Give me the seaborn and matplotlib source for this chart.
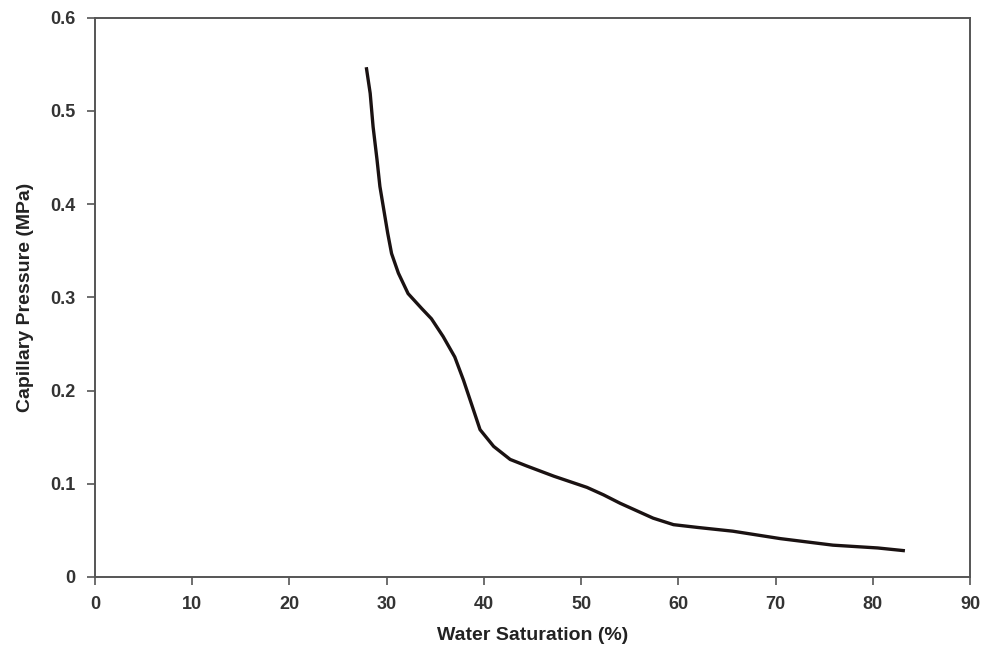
import matplotlib
matplotlib.use("Agg")
import matplotlib.pyplot as plt
import seaborn as sns
import pandas as pd

water_saturation = [27.9, 28.3, 28.6, 29.0, 29.3, 29.7, 30.1, 30.5, 31.2, 32.2,
                    33.6, 34.6, 35.8, 37.0, 37.9, 38.8, 39.6, 41.0, 42.7, 44.4,
                    47.2, 50.6, 52.3, 54.0, 57.4, 59.5, 62.0, 65.6, 70.5, 75.9,
                    80.5, 83.3]
capillary_pressure = [0.547, 0.519, 0.483, 0.448, 0.419, 0.394, 0.369, 0.347, 0.326, 0.304,
                      0.288, 0.277, 0.258, 0.236, 0.211, 0.183, 0.158, 0.140, 0.126, 0.119,
                      0.108, 0.096, 0.088, 0.079, 0.063, 0.056, 0.053, 0.049, 0.041, 0.034,
                      0.031, 0.028]
x_ticks = [0, 10, 20, 30, 40, 50, 60, 70, 80, 90]
y_ticks = [0, 0.1, 0.2, 0.3, 0.4, 0.5, 0.6]
y_tick_labels = ["0", "0.1", "0.2", "0.3", "0.4", "0.5", "0.6"]

df = pd.DataFrame({"Sw": water_saturation, "Pc": capillary_pressure})

sns.set_style("white")
plt.rcParams["font.family"] = ["Liberation Sans", "DejaVu Sans"]

fig = plt.figure(figsize=(9.93, 6.6), dpi=100)
ax = fig.add_axes([0.0957, 0.126, 0.8812, 0.847])

sns.lineplot(data=df, x="Sw", y="Pc", ax=ax, color="#1a1212", linewidth=2.4,
             sort=False, estimator=None)
ax.lines[0].set_solid_joinstyle("round")
ax.lines[0].set_solid_capstyle("butt")

ax.set_xlim(0, 90)
ax.set_ylim(0, 0.6)
ax.set_xticks(x_ticks)
ax.set_xticklabels([str(t) for t in x_ticks], fontsize=13, fontweight="bold", color="#333333")
ax.set_yticks(y_ticks)
ax.set_yticklabels(y_tick_labels, fontsize=13, fontweight="bold", color="#333333")
ax.tick_params(axis="both", which="major", bottom=True, left=True, direction="out",
               length=6, width=1.2, color="#555555", pad=8)

for s in ax.spines.values():
    s.set_color("#555555")
    s.set_linewidth(1.4)

ax.set_xlabel("Water Saturation (%)", fontsize=14, fontweight="bold", color="#222222", labelpad=10)
ax.set_ylabel("Capillary Pressure (MPa)", fontsize=14, fontweight="bold", color="#222222", labelpad=12)

fig.savefig("out.png", dpi=100)
